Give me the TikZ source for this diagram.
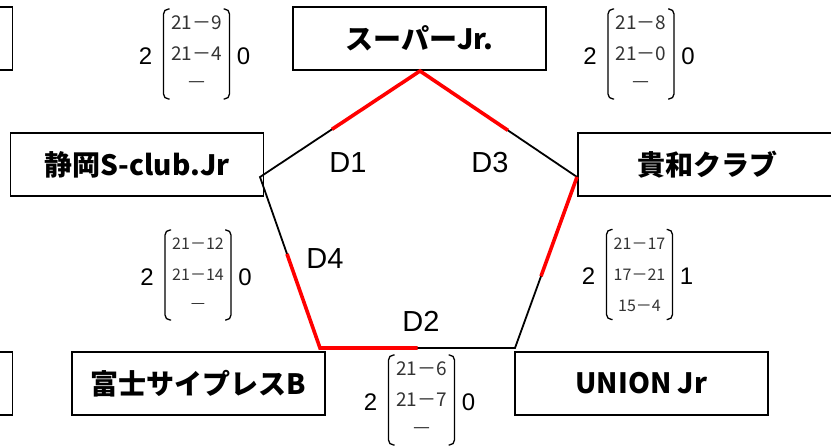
\documentclass[tikz,border=0pt]{standalone}
\usepackage{fontspec}
\setmainfont{Liberation Sans}
\newfontfamily\jpfont{Noto Sans CJK JP}
\usetikzlibrary{calc}
\newcommand\scoremat[9]{%
  \node[side] (#1l) at (#2-51,#3+2) {#4};
  \node[row,font=\jpfont\fontsize{#9}{#9}\selectfont] (#1a) at (#2,#3-31) {#5};
  \node[row,font=\jpfont\fontsize{#9}{#9}\selectfont] (#1b) at (#2,#3) {#6};
  \node[row,font=\jpfont\fontsize{#9}{#9}\selectfont] (#1c) at (#2,#3+31) {#7};
  \node[side] (#1r) at (#2+47,#3+2) {#8};
  \draw[brk] (#2-27,#3-45) -- (#2-33,#3-45) -- (#2-33,#3+45) -- (#2-27,#3+45);
  \draw[brk] (#2+27,#3-45) -- (#2+33,#3-45) -- (#2+33,#3+45) -- (#2+27,#3+45);
}
\begin{document}
\begin{tikzpicture}[x=1pt,y=-1pt,
  team/.style={draw=black,line width=1.3pt,minimum width=253pt,minimum height=63pt,inner sep=0pt,
    font=\jpfont\bfseries\fontsize{28}{28}\selectfont},
  edge/.style={line width=1.8pt,black},
  win/.style={line width=3.6pt,red,line join=miter},
  dlabel/.style={inner sep=0pt,font=\fontsize{29}{29}\selectfont},
  side/.style={inner sep=0pt,font=\fontsize{24}{24}\selectfont},
  row/.style={inner sep=0pt,text=black!80},
  brk/.style={line width=1.3pt,rounded corners=5pt}
]
\useasboundingbox (0,0) rectangle (831,446);
\clip (0,0) rectangle (831,446);

% team boxes
\node[team] (sup)   at (419.5,38.5) {スーパーJr.};
\node[team] (shz)   at (137,164.5)  {静岡S-club.Jr};
\node[team,minimum width=258pt] (kiwa) at (707,164.5) {貴和クラブ};
\node[team] (fuji)  at (198.5,383.5) {富士サイプレスB};
\node[team] (union) at (641.5,383.5) {UNION Jr};
\node[team] (p1)    at (-114,38.5) {};
\node[team] (p2)    at (-114,383.5) {};

% pentagon
\coordinate (T)  at (420,71);
\coordinate (L)  at (260,177);
\coordinate (R)  at (577,177);
\coordinate (BL) at (320,348);
\coordinate (BR) at (515,348);
\draw[edge] (T) -- (L) -- (BL) -- (BR) -- (R) -- cycle;
\draw[win] ($(T)!0.55!(L)$) -- (T) -- ($(T)!0.56!(R)$);
\draw[win] (R) -- ($(R)!0.58!(BR)$);
\draw[win] ($(BL)!0.55!(L)$) -- (BL) -- ($(BL)!0.5!(BR)$);

% match labels
\node[dlabel] (d1) at (348,163) {D1};
\node[dlabel] (d3) at (490,163) {D3};
\node[dlabel] (d4) at (325,259) {D4};
\node[dlabel] (d2) at (421,321) {D2};

% scores
\scoremat{m1}{196.5}{54}{2}{21－9}{21－4}{—}{0}{19}
\scoremat{m2}{641}{54}{2}{21－8}{21－0}{—}{0}{19}
\scoremat{m3}{198}{275}{2}{21－12}{21－14}{—}{0}{16}
\scoremat{m4}{639.5}{274.5}{2}{21－17}{17－21}{15－4}{1}{16}
\scoremat{m5}{421.5}{400}{2}{21－6}{21－7}{—}{0}{19}
\end{tikzpicture}
\end{document}
